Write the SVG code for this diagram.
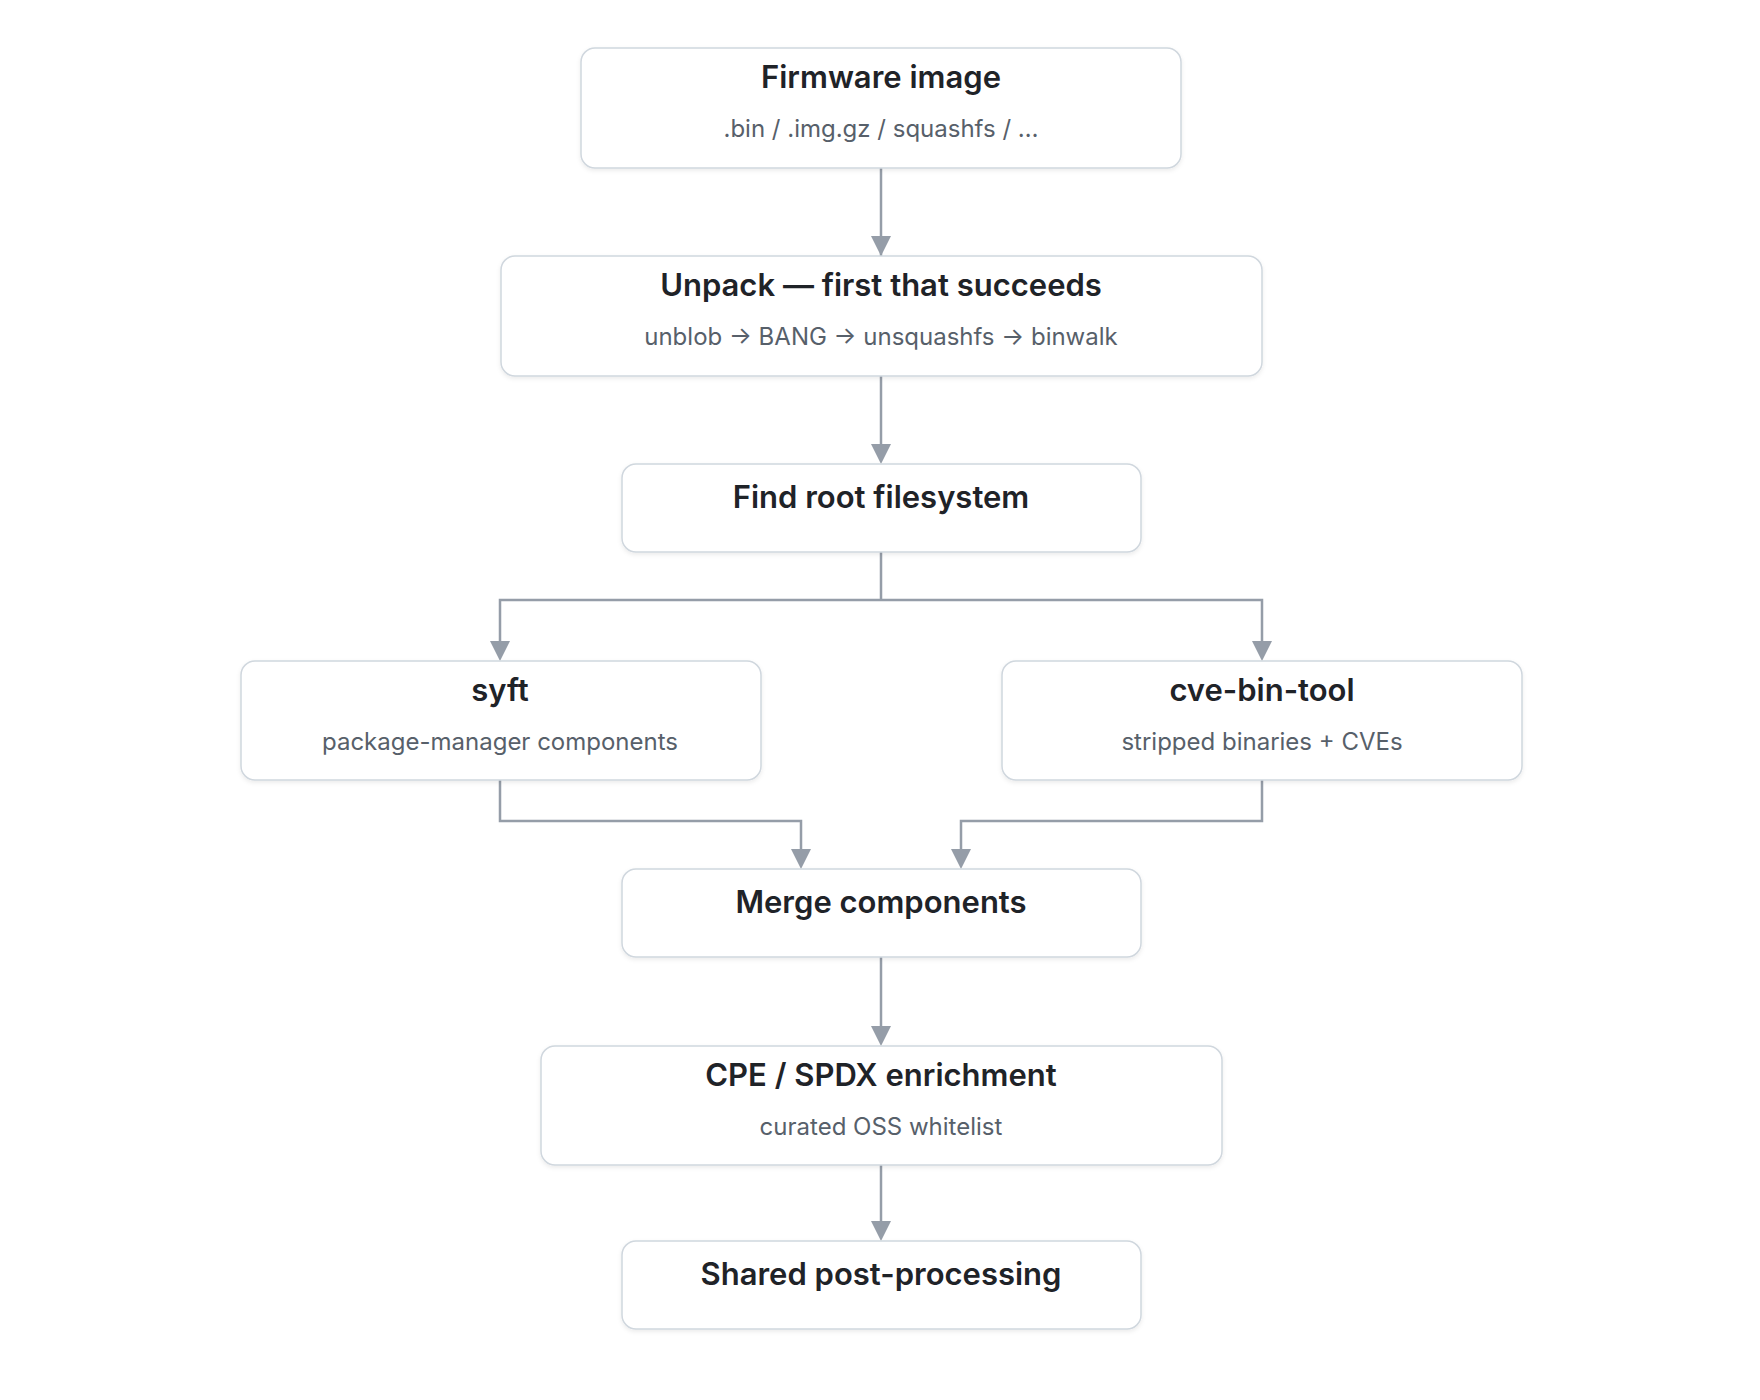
<svg xmlns="http://www.w3.org/2000/svg" width="1760" height="1400" viewBox="0 0 1760 1400">
<style>
.box{fill:#fff;stroke:#d0d7de;stroke-width:1.5;filter:url(#sh)}
.t{font-family:Inter,"Liberation Sans",sans-serif;font-weight:600;font-size:31px;fill:#1f2328;text-anchor:middle}
.s{font-family:Inter,"Liberation Sans",sans-serif;font-size:24px;fill:#57606a;text-anchor:middle}
.c{fill:none;stroke:#959da8;stroke-width:2.5;marker-end:url(#a)}
</style>
<defs>
<filter id="sh" x="-5%" y="-10%" width="110%" height="130%"><feDropShadow dx="0" dy="2" stdDeviation="2" flood-color="#000" flood-opacity="0.08"/></filter>
<marker id="a" viewBox="0 0 10 10" refX="10" refY="5" markerWidth="8" markerHeight="8" markerUnits="userSpaceOnUse" orient="auto"><path d="M0,0 L10,5 L0,10 z" fill="#959da8"/></marker>
</defs>
<rect width="1760" height="1400" fill="#fff"/>
<g id="connectors">
<path class="c" d="M881,168 V256" style="marker-end:none"/>
<path d="M871,236 L881,256 L891,236 z" fill="#959da8"/>
<path d="M881,376 V444" fill="none" stroke="#959da8" stroke-width="2.5"/><path d="M871,444 L881,464 L891,444 z" fill="#959da8"/>
<path d="M881,552 V600 H500 V641 M881,600 H1262 V641" fill="none" stroke="#959da8" stroke-width="2.5"/>
<path d="M490,641 L500,661 L510,641 z" fill="#959da8"/><path d="M1252,641 L1262,661 L1272,641 z" fill="#959da8"/>
<path d="M500,780 V821 H801 V849 M1262,780 V821 H961 V849" fill="none" stroke="#959da8" stroke-width="2.5"/>
<path d="M791,849 L801,869 L811,849 z" fill="#959da8"/><path d="M951,849 L961,869 L971,849 z" fill="#959da8"/>
<path d="M881,957 V1026" fill="none" stroke="#959da8" stroke-width="2.5"/><path d="M871,1026 L881,1046 L891,1026 z" fill="#959da8"/>
<path d="M881,1165 V1221" fill="none" stroke="#959da8" stroke-width="2.5"/><path d="M871,1221 L881,1241 L891,1221 z" fill="#959da8"/>
</g>
<g id="firmware"><rect class="box" x="581" y="48" width="600" height="120" rx="14"/><text class="t" x="881" y="88">Firmware image</text><text class="s" x="881" y="137">.bin / .img.gz / squashfs / …</text></g>
<g id="unpack"><rect class="box" x="501" y="256" width="761" height="120" rx="14"/><text class="t" x="881" y="296">Unpack — first that succeeds</text><text class="s" x="881" y="345">unblob → BANG → unsquashfs → binwalk</text></g>
<g id="findroot"><rect class="box" x="622" y="464" width="519" height="88" rx="14"/><text class="t" x="881" y="508">Find root filesystem</text></g>
<g id="syft"><rect class="box" x="241" y="661" width="520" height="119" rx="14"/><text class="t" x="500" y="701">syft</text><text class="s" x="500" y="750">package-manager components</text></g>
<g id="cvebintool"><rect class="box" x="1002" y="661" width="520" height="119" rx="14"/><text class="t" x="1262" y="701">cve-bin-tool</text><text class="s" x="1262" y="750">stripped binaries + CVEs</text></g>
<g id="merge"><rect class="box" x="622" y="869" width="519" height="88" rx="14"/><text class="t" x="881" y="913">Merge components</text></g>
<g id="cpe"><rect class="box" x="541" y="1046" width="681" height="119" rx="14"/><text class="t" x="881" y="1086">CPE / SPDX enrichment</text><text class="s" x="881" y="1135">curated OSS whitelist</text></g>
<g id="shared"><rect class="box" x="622" y="1241" width="519" height="88" rx="14"/><text class="t" x="881" y="1285">Shared post-processing</text></g>
</svg>
